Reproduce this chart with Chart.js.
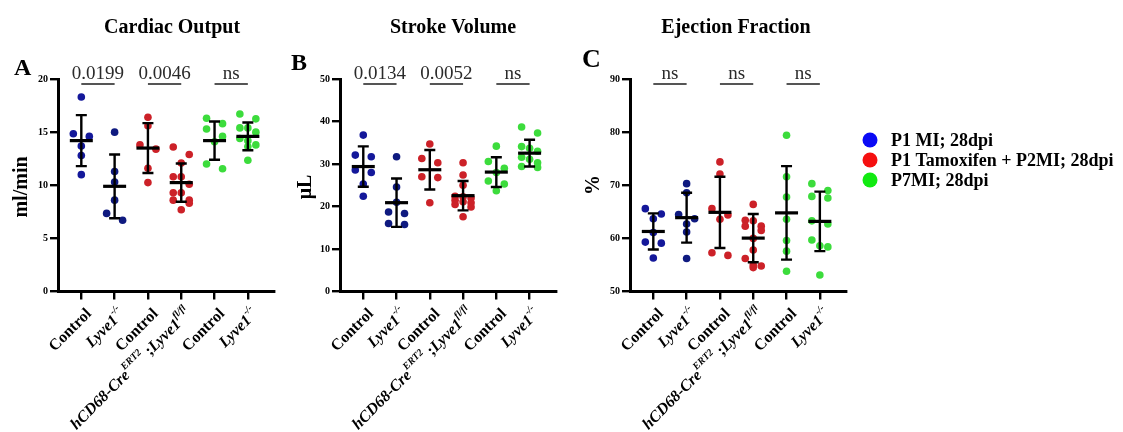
<!DOCTYPE html>
<html>
<head>
<meta charset="utf-8">
<script src="https://cdn.jsdelivr.net/npm/chart.js@4.4.1/dist/chart.umd.min.js"></script>
<style>
  body { margin: 0; background: #fff; }
  #wrap { position: relative; width: 1123px; height: 432px; overflow: hidden; }
  #wrap canvas { position: absolute; top: 0; }
</style>
</head>
<body>
<div id="wrap">
  <canvas id="deco" width="1123" height="432" style="left:0"></canvas>
  <canvas id="chA" width="280" height="432" style="left:0"></canvas>
  <canvas id="chB" width="280" height="432" style="left:280px"></canvas>
  <canvas id="chC" width="300" height="432" style="left:560px"></canvas>
</div>
<script>
// group order on every x axis
const groups = ['Control', 'Lyve1-/-', 'Control', 'hCD68-CreERT2;Lyve1fl/fl', 'Control', 'Lyve1-/-'];
const cohorts = ['P1 MI; 28dpi', 'P1 Tamoxifen + P2MI; 28dpi', 'P7MI; 28dpi'];

// cardiac output, ml/min
const coValues = [
  [18.3, 14.85, 14.6, 13.7, 12.8, 11.0],
  [15.0, 11.3, 10.3, 8.6, 7.35, 6.7],
  [16.4, 15.6, 13.8, 13.4, 11.6, 10.25],
  [13.6, 12.9, 12.1, 10.8, 10.8, 10.1, 9.3, 9.3, 8.6, 8.6, 8.3, 7.7],
  [16.3, 15.8, 15.3, 14.6, 14.1, 12.0, 11.55],
  [16.7, 16.25, 15.4, 15.4, 15.0, 14.4, 14.2, 13.8, 13.65, 12.35]
];
const coMean = [14.2, 9.9, 13.5, 10.25, 14.2, 14.6];
const coSD = [2.4, 3.0, 2.35, 1.8, 1.8, 1.3];
const coP = ['0.0199', '0.0046', 'ns'];

// stroke volume, uL
const svValues = [
  [36.8, 32.1, 31.7, 28.6, 28.0, 25.3, 22.4],
  [31.7, 24.6, 21.0, 18.7, 18.35, 16.0, 15.75],
  [34.7, 31.3, 30.3, 27.0, 26.8, 20.9],
  [30.3, 27.4, 25.0, 22.4, 22.3, 22.0, 21.5, 21.1, 20.9, 20.5, 19.9, 17.6],
  [34.2, 30.6, 29.0, 28.0, 26.0, 25.3, 23.7],
  [38.7, 37.3, 34.1, 33.7, 33.0, 31.6, 31.1, 30.3, 29.4, 29.2]
];
const svMean = [29.4, 20.9, 28.65, 22.55, 28.1, 32.55];
const svSD = [4.75, 5.7, 4.65, 3.45, 3.5, 3.15];
const svP = ['0.0134', '0.0052', 'ns'];

// ejection fraction, %
const efValues = [
  [65.6, 64.6, 63.7, 61.1, 59.3, 59.1, 56.3],
  [70.3, 68.6, 64.5, 63.7, 62.7, 61.2, 56.2],
  [74.4, 72.1, 65.6, 64.4, 63.6, 57.3, 56.8],
  [66.4, 63.4, 63.3, 62.3, 62.3, 61.5, 60.0, 57.8, 56.2, 55.0, 54.8, 54.5],
  [79.4, 71.6, 67.8, 63.6, 59.6, 57.6, 53.8],
  [70.3, 69.0, 67.9, 67.6, 63.3, 62.7, 59.7, 58.6, 58.4, 53.1]
];
const efMean = [61.3, 63.9, 64.9, 60.05, 64.8, 63.2];
const efSD = [3.4, 4.7, 6.7, 4.55, 8.8, 5.6];
const efP = ['ns', 'ns', 'ns'];

const SERIF = '"Liberation Serif", "Times New Roman", serif';
const dotColors = ['#14189a', '#0f1a80', '#cc2128', '#cc2128', '#3cdc3c', '#3cdc3c'];
const legendColors = ['#0a0af5', '#f51010', '#12ea12'];
const COL = 0.24;          // sideways step for crowded dots, in category units

// rich tick labels: italics for gene names, superscripts for alleles
const xLabelParts = [
  [{ t: 'Control' }],
  [{ t: 'Lyve1', i: 1 }, { t: '-/-', s: 1, i: 1 }],
  [{ t: 'Control' }],
  [{ t: 'hCD68-Cre', i: 1 }, { t: 'ERT2', s: 1, i: 1 }, { t: ' ;' }, { t: 'Lyve1', i: 1 }, { t: 'fl/fl', s: 1, i: 1 }],
  [{ t: 'Control' }],
  [{ t: 'Lyve1', i: 1 }, { t: '-/-', s: 1, i: 1 }]
];

// dots closer than one diameter go side by side, at most three to a row
function swarm(vals, pxPerUnit) {
  const d = 7.5;
  const order = vals.map((v, i) => i).sort((a, b) => vals[b] - vals[a]);
  const off = new Array(vals.length).fill(0);
  let row = [];
  const flush = () => {
    const n = row.length;
    row.forEach((idx, k) => { off[idx] = n === 1 ? 0 : (k - (n - 1) / 2) * (n === 2 ? 2 : 1); });
    row = [];
  };
  order.forEach(idx => {
    if (row.length && (row.length === 3 || (vals[row[0]] - vals[idx]) * pxPerUnit > d)) flush();
    row.push(idx);
  });
  flush();
  return off;
}

function partFont(p, size) {
  return (p.i ? 'italic ' : '') + 'bold ' + (p.s ? Math.round(size * 0.62) : size) + 'px ' + SERIF;
}

// mean / SD bars, significance brackets and the slanted group labels
function statsLayer(means, sds, pLabels) {
  return {
    id: 'statsLayer',
    afterDatasetsDraw(chart) {
      const { ctx, scales: { x, y } } = chart;
      ctx.save();
      ctx.strokeStyle = '#000';
      means.forEach((m, g) => {
        const cx = x.getPixelForValue(g);
        const yt = y.getPixelForValue(m + sds[g]);
        const yb = y.getPixelForValue(m - sds[g]);
        const ym = y.getPixelForValue(m);
        ctx.lineWidth = 2.4;
        ctx.beginPath();
        ctx.moveTo(cx, yt); ctx.lineTo(cx, yb);
        ctx.moveTo(cx - 5.5, yt); ctx.lineTo(cx + 5.5, yt);
        ctx.moveTo(cx - 5.5, yb); ctx.lineTo(cx + 5.5, yb);
        ctx.stroke();
        ctx.lineWidth = 3.2;
        ctx.beginPath();
        ctx.moveTo(cx - 11.5, ym); ctx.lineTo(cx + 11.5, ym);
        ctx.stroke();
      });
      ctx.restore();
    },
    afterDraw(chart) {
      const { ctx, chartArea, scales: { x } } = chart;
      ctx.save();
      // p-value brackets
      const ly = chartArea.top + 5;
      pLabels.forEach((txt, k) => {
        const x0 = x.getPixelForValue(2 * k);
        const x1 = x.getPixelForValue(2 * k + 1);
        ctx.strokeStyle = '#555';
        ctx.lineWidth = 1.8;
        ctx.beginPath();
        ctx.moveTo(x0, ly); ctx.lineTo(x1, ly);
        ctx.stroke();
        ctx.fillStyle = '#2a2a2a';
        ctx.font = '19px ' + SERIF;
        ctx.textAlign = 'center';
        ctx.textBaseline = 'alphabetic';
        ctx.fillText(txt, (x0 + x1) / 2, ly - 5);
      });
      // slanted x labels
      const size = 16;
      xLabelParts.forEach((parts, g) => {
        let total = 0;
        const widths = parts.map(p => { ctx.font = partFont(p, size); const w = ctx.measureText(p.t).width; total += w; return w; });
        ctx.save();
        ctx.translate(x.getPixelForValue(g) + 8, chartArea.bottom + 20);
        ctx.rotate(-Math.PI / 4);
        ctx.fillStyle = '#000';
        ctx.textAlign = 'left';
        ctx.textBaseline = 'middle';
        let px = -total;
        parts.forEach((p, k) => {
          ctx.font = partFont(p, size);
          ctx.fillText(p.t, px, p.s ? -size * 0.42 : 0);
          px += widths[k];
        });
        ctx.restore();
      });
      ctx.restore();
    }
  };
}

function axisStyle() {
  return {
    grid: { display: true, drawOnChartArea: false, drawTicks: true, tickLength: 8, lineWidth: 2.4, color: '#000' },
    border: { display: true, width: 3, color: '#000' }
  };
}

function panelChart(id, vals, means, sds, yMin, yMax, yStep, pLabels, padLeft, padRight) {
  const pxPerUnit = 212.5 / (yMax - yMin);
  const datasets = vals.map((arr, g) => {
    const off = swarm(arr, pxPerUnit);
    return {
      label: groups[g],
      data: arr.map((v, k) => ({ x: g + off[k] * COL, y: v })),
      backgroundColor: dotColors[g],
      borderWidth: 0,
      pointRadius: 3.8,
      pointHoverRadius: 3.8
    };
  });
  return new Chart(document.getElementById(id), {
    type: 'scatter',
    data: { datasets },
    options: {
      responsive: false,
      animation: false,
      events: [],
      layout: { padding: { left: padLeft, right: padRight, top: 79, bottom: 130.5 } },
      plugins: { legend: { display: false }, tooltip: { enabled: false } },
      scales: {
        x: Object.assign({
          type: 'linear', min: -0.7, max: 5.8,
          afterBuildTicks: s => { s.ticks = groups.map((_, i) => ({ value: i })); },
          afterFit: s => { s.height = 10; },
          ticks: { display: false }
        }, axisStyle()),
        y: Object.assign({
          min: yMin, max: yMax,
          afterFit: s => { s.width = 30; },
          ticks: { stepSize: yStep, color: '#000', padding: 2, font: { family: SERIF, size: 10, weight: 'bold' } }
        }, axisStyle())
      }
    },
    plugins: [statsLayer(means, sds, pLabels)]
  });
}

panelChart('chA', coValues, coMean, coSD, 0, 20, 5, coP, 28, 5.5);
panelChart('chB', svValues, svMean, svSD, 0, 50, 10, svP, 30, 3.5);
panelChart('chC', efValues, efMean, efSD, 50, 90, 10, efP, 40, 13.5);

// panel titles, letters, axis titles and the shared legend
const dc = document.getElementById('deco').getContext('2d');
dc.fillStyle = '#000';
dc.textAlign = 'center';
dc.font = 'bold 20px ' + SERIF;
dc.fillText('Cardiac Output', 172, 33);
dc.fillText('Stroke Volume', 453, 33);
dc.fillText('Ejection Fraction', 736, 33);

dc.textAlign = 'left';
dc.font = 'bold 24px ' + SERIF;
dc.fillText('A', 14, 75);
dc.fillText('B', 291, 70);
dc.font = 'bold 26px ' + SERIF;
dc.fillText('C', 582, 67);

[['ml/min', 22, 187], ['\u03bcL', 306, 187], ['%', 594, 185]].forEach(([t, cx, cy]) => {
  dc.save();
  dc.translate(cx, cy);
  dc.rotate(-Math.PI / 2);
  dc.textAlign = 'center';
  dc.textBaseline = 'middle';
  dc.font = 'bold 20px ' + SERIF;
  dc.fillText(t, 0, 0);
  dc.restore();
});

cohorts.forEach((name, k) => {
  const cy = 140 + k * 20;
  dc.fillStyle = legendColors[k];
  dc.beginPath();
  dc.arc(870, cy, 7.5, 0, Math.PI * 2);
  dc.fill();
  dc.fillStyle = '#000';
  dc.font = 'bold 18px ' + SERIF;
  dc.textAlign = 'left';
  dc.textBaseline = 'middle';
  dc.fillText(name, 891, cy + 1);
});
</script>
</body>
</html>
